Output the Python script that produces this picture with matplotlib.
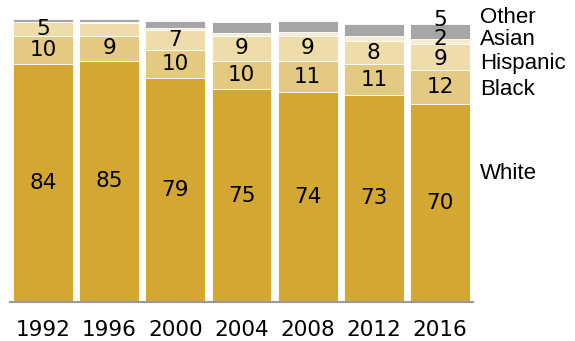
import matplotlib.pyplot as plt
import numpy as np

plt.rcParams['font.family'] = ['Liberation Sans', 'DejaVu Sans']

# ── Data (% of voters) ────────────────────────────────────────────────────────
years    = ['1992', '1996', '2000', '2004', '2008', '2012', '2016']
white    = [84, 85, 79, 75, 74, 73, 70]
black    = [10, 9, 10, 10, 11, 11, 12]
hispanic = [5, 4.5, 7, 9, 9, 8, 9]
asian    = [0, 0.5, 0.7, 1, 1.2, 2, 2]
other    = [1, 1, 2.4, 4, 3.9, 4.2, 5]

# which segments get a value printed on them
show_hisp  = [True, False, True, True, True, True, True]
show_asian = [False, False, False, False, False, False, True]
show_other = [False, False, False, False, False, False, True]

series = [
    ('White', white, '#D4A732'),
    ('Black', black, '#E3C982'),
    ('Hispanic', hispanic, '#EEDDAA'),
    ('Asian', asian, '#F6ECD2'),
    ('Other', other, '#A6A6A6'),
]

NUM = dict(fontsize=15.5, family='DejaVu Sans')   # digits
WORD = dict(fontsize=16)                           # category names

fig = plt.figure(figsize=(5.75, 3.41), dpi=100, facecolor='white')
ax = fig.add_axes([9.9 / 575, 39.3 / 341, 463.2 / 575, 283 / 341])

x = np.arange(len(years))
bottom = np.zeros(len(years))
segs = {}
for name, vals, col in series:
    vals = np.array(vals, dtype=float)
    ax.bar(x, vals, bottom=bottom, width=0.906, color=col,
           edgecolor='white', linewidth=0.6)
    segs[name] = (bottom.copy(), vals)
    bottom += vals

# value labels inside segments
def label(name, i, text, dy=0):
    b, v = segs[name]
    ax.text(i, b[i] + v[i] / 2 + dy, text, ha='center', va='center', **NUM)

for i in x:
    label('White', i, f'{white[i]:g}')
    label('Black', i, f'{black[i]:g}')
    if show_hisp[i]:
        # last bar is crowded at the top, nudge its small labels apart
        label('Hispanic', i, f'{hispanic[i]:g}', dy=-0.6 if show_asian[i] else 0)
    if show_asian[i]:
        label('Asian', i, f'{asian[i]:g}', dy=0.9)
    if show_other[i]:
        label('Other', i, f'{other[i]:g}', dy=4.2)

# category labels to the right of the last bar
legend_y = {'Other': 100.3, 'Asian': 92.5, 'Hispanic': 84.0, 'Black': 75.0, 'White': 45.3}
for name, yy in legend_y.items():
    ax.text(6.6, yy, name, ha='left', va='center', clip_on=False, **WORD)

ax.set_xlim(-0.5, 6.5)
ax.set_ylim(0, 100)
ax.set_xticks(x)
ax.set_xticklabels(years, **NUM)
ax.tick_params(axis='x', length=0, pad=13)
ax.set_yticks([])
for sp in ['top', 'right', 'left']:
    ax.spines[sp].set_visible(False)
ax.spines['bottom'].set_color('#999999')
ax.spines['bottom'].set_linewidth(1.5)

plt.savefig('out.png', dpi=100, facecolor='white')
